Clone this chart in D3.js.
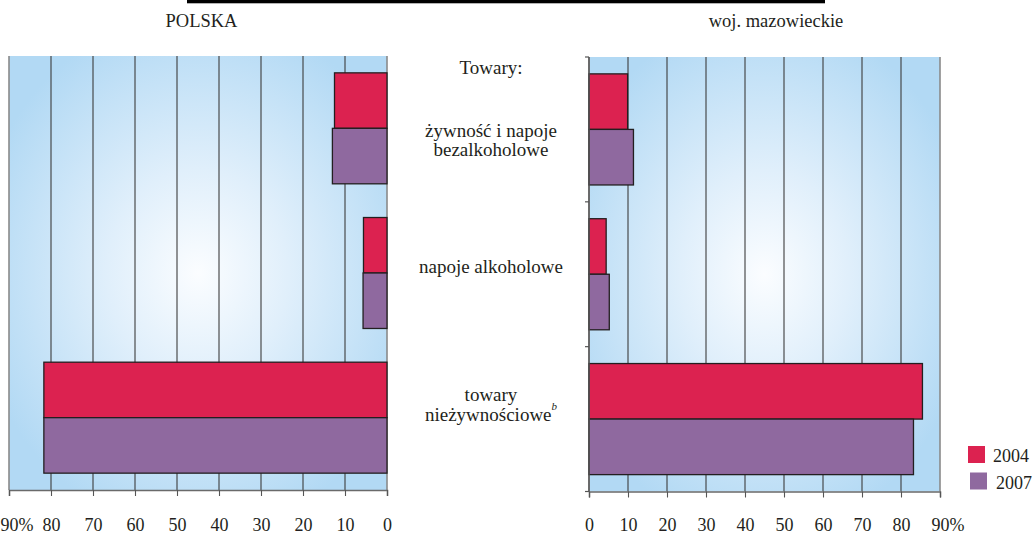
<!DOCTYPE html>
<html><head><meta charset="utf-8">
<script src="https://cdn.jsdelivr.net/npm/d3@7"></script>
<style>
html,body{margin:0;padding:0;background:#fff;}
svg{display:block;}
svg text{font-family:'Liberation Serif','DejaVu Serif',serif !important;}
</style></head><body>
<svg id="c" width="1035" height="535"></svg>
<script>
// ---- data ----
const categories = ["żywność i napoje bezalkoholowe", "napoje alkoholowe", "towary nieżywnościowe"];
const series = ["2004", "2007"];
const polska2004 = [12.5, 5.6, 81.7];
const polska2007 = [13.0, 5.7, 81.7];
const mazow2004 = [9.9, 4.4, 85.5];
const mazow2007 = [11.4, 5.2, 83.2];
const tickValues = [0, 10, 20, 30, 40, 50, 60, 70, 80, 90];
const panelTitles = ["POLSKA", "woj. mazowieckie"];
const centerHeader = "Towary:";

const colors = {"2004": "#dc2250", "2007": "#8f699f"};
const FONT = "'Liberation Serif', serif";
const svg = d3.select("#c").attr("font-family", FONT);

// top black rule
svg.append("rect").attr("x", 187).attr("y", 0).attr("width", 638).attr("height", 3.3).attr("fill", "#000");

const defs = svg.append("defs");
const grad = defs.append("radialGradient").attr("id", "bg").attr("cx", "50%").attr("cy", "50%").attr("r", "60%");
grad.append("stop").attr("offset", "0%").attr("stop-color", "#fbfdff");
grad.append("stop").attr("offset", "40%").attr("stop-color", "#e0effb");
grad.append("stop").attr("offset", "100%").attr("stop-color", "#b2d9f4");

function panel(opts) {
  const {x0, x1, y0, y1, v2004, v2007, title, titleX, leftAxis} = opts;
  const x = d3.scaleLinear().domain([0, 90]).range([x0, x1]);
  const y = d3.scaleBand().domain(categories).range([y0, y1]).paddingInner(0.233).paddingOuter(0.1165);
  const ys = d3.scaleBand().domain(series).range([0, y.bandwidth()]);
  const g = svg.append("g");
  const left = Math.min(x0, x1), right = Math.max(x0, x1);
  g.append("rect").attr("x", left).attr("y", y0).attr("width", right - left).attr("height", y1 - y0).attr("fill", "url(#bg)");
  // grid
  g.selectAll("line.grid").data(tickValues).join("line")
    .attr("x1", d => x(d)).attr("x2", d => x(d)).attr("y1", y0).attr("y2", y1)
    .attr("stroke", d => (d === 0 || d === 90) ? "#8a8a8a" : "#3c3c3c")
    .attr("stroke-width", d => (d === 0 || d === 90) ? 1.6 : 1.1);
  // bars
  const rows = categories.map((c, i) => [{c, s: "2004", v: v2004[i]}, {c, s: "2007", v: v2007[i]}]).flat();
  g.selectAll("rect.bar").data(rows).join("rect")
    .attr("x", d => Math.min(x(0), x(d.v)))
    .attr("width", d => Math.abs(x(d.v) - x(0)))
    .attr("y", d => y(d.c) + ys(d.s))
    .attr("height", ys.bandwidth())
    .attr("fill", d => colors[d.s])
    .attr("stroke", "#231f20").attr("stroke-width", 1.3);
  // bottom axis
  const ax = g.append("g").attr("transform", `translate(0,${y1})`)
    .call(d3.axisBottom(x).tickValues(tickValues).tickSize(6).tickPadding(y1 > 491 ? 21 : 22)
      .tickFormat(d => d === 90 ? "90%" : String(d)));
  ax.attr("font-family", FONT).attr("font-size", 18);
  ax.select(".domain").attr("stroke", "#6a6a6a").attr("stroke-width", 1.5);
  ax.selectAll(".tick line").attr("stroke", "#555").attr("stroke-width", 1.1);
  ax.selectAll(".tick text").attr("fill", "#231f20")
    .filter(d => d === 90).attr("text-anchor", "start").attr("dx", -9);
  if (leftAxis) {
    const ay = g.append("g").attr("transform", `translate(${x0},0)`);
    const bounds = [y0, y0 + y.step(), y0 + 2 * y.step(), y1];
    ay.append("line").attr("x1", 0).attr("x2", 0).attr("y1", y0).attr("y2", y1).attr("stroke", "#555").attr("stroke-width", 1.4);
    ay.selectAll("line.t").data(bounds).join("line").attr("class", "t")
      .attr("x1", -4).attr("x2", 0).attr("y1", d => d).attr("y2", d => d).attr("stroke", "#555").attr("stroke-width", 1.2);
  }
  svg.append("text").attr("x", titleX).attr("y", 27).attr("text-anchor", "middle")
    .attr("font-size", 18.5).attr("fill", "#231f20").text(title);
  return y;
}

panel({x0: 387, x1: 9, y0: 56, y1: 490, v2004: polska2004, v2007: polska2007, title: panelTitles[0], titleX: 201.5, leftAxis: false});
panel({x0: 589, x1: 940, y0: 57, y1: 491.5, v2004: mazow2004, v2007: mazow2007, title: panelTitles[1], titleX: 776, leftAxis: true});

// center category labels
const cx = 491;
const lab = svg.append("g").attr("font-size", 19).attr("fill", "#231f20").attr("text-anchor", "middle");
lab.append("text").attr("x", cx).attr("y", 74).text(centerHeader);
const catLines = [["żywność i napoje", "bezalkoholowe"], ["napoje alkoholowe"], ["towary", "nieżywnościowe"]];
const catBase = [136.5, 273, 401];
catLines.forEach((lines, i) => {
  lines.forEach((t, j) => {
    const tx = lab.append("text").attr("x", cx).attr("y", catBase[i] + j * 19.5).text(t);
    if (i === 2 && j === 1) {
      tx.append("tspan").attr("font-size", 11).attr("font-style", "italic").attr("dy", -11).text("b");
    }
  });
});

// legend
const leg = svg.append("g");
const legPos = [{s: "2004", rx: 968, ry: 446, tx: 993, ty: 462}, {s: "2007", rx: 970, ry: 472.5, tx: 996, ty: 489}];
legPos.forEach(p => {
  leg.append("rect").attr("x", p.rx).attr("y", p.ry).attr("width", 17).attr("height", 17).attr("fill", colors[p.s]);
  leg.append("text").attr("x", p.tx).attr("y", p.ty).attr("font-size", 18).attr("fill", "#231f20").text(p.s);
});
</script>
</body></html>
